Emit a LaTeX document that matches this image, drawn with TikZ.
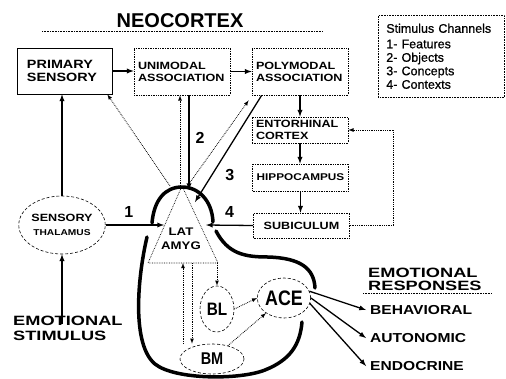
\documentclass[tikz,border=0pt]{standalone}
\usepackage{fontspec}
\setmainfont{Liberation Sans}
\newfontfamily\widefont[FakeStretch=1.2]{Liberation Sans}
\newfontfamily\extfont[FakeStretch=1.35]{Liberation Sans}
\newfontfamily\narrowfont[FakeStretch=0.85]{Liberation Sans}
\newfontfamily\legendfont[FakeBold=0.8]{Liberation Sans}
\usetikzlibrary{shapes.geometric}

\begin{document}
\begin{tikzpicture}[x=1pt, y=-1pt,
    area/.style={draw, densely dotted, line width=0.7pt, text width=88pt, inner xsep=4pt, inner ysep=1pt, align=left, font=\widefont\bfseries\fontsize{10.5}{12}\selectfont},
    nucleus/.style={draw, ellipse, densely dashed, line width=0.6pt, inner sep=0pt, font=\narrowfont\bfseries\fontsize{18}{18}\selectfont},
    bigtext/.style={anchor=west, inner sep=0pt, align=left, font=\extfont\bfseries\fontsize{13.5}{13}\selectfont},
    resp/.style={anchor=west, inner sep=0pt, font=\widefont\bfseries\fontsize{13}{13}\selectfont},
    numlabel/.style={inner sep=0pt, font=\bfseries\fontsize{16}{16}\selectfont},
    fiber/.style={-latex, line width=1.3pt},
    dotfiber/.style={-latex, densely dotted, line width=0.8pt},
    outline/.style={line width=3.5pt, line cap=round}]
    \useasboundingbox (0,0) rectangle (506,378);

    % neocortex
    \node[inner sep=0pt, font=\bfseries\fontsize{20}{20}\selectfont] (neocortex) at (180,21) {NEOCORTEX};
    \draw[densely dotted, line width=0.6pt] ([xshift=-138pt,yshift=-3pt]neocortex.south) -- ([xshift=143pt,yshift=-3pt]neocortex.south);
    \node[draw, line width=0.7pt, text width=75pt, inner xsep=10pt, minimum height=46pt, align=left, font=\widefont\bfseries\fontsize{12}{13.5}\selectfont] (primary) at (64.5,71) {PRIMARY\\SENSORY};
    \node[area, minimum height=47pt] (unimodal) at (182,71.5) {UNIMODAL\\ASSOCIATION};
    \node[area, minimum height=47pt] (polymodal) at (300,71.5) {POLYMODAL\\ASSOCIATION};

    % hippocampal loop
    \node[area, minimum height=26pt] (entorhinal) at (300,130) {ENTORHINAL\\CORTEX};
    \node[area, minimum height=27pt, align=center, font=\widefont\bfseries\fontsize{9.8}{12}\selectfont] (hippocampus) at (300.5,177.5) {HIPPOCAMPUS};
    \node[area, minimum height=25pt, align=center] (subiculum) at (301.5,225.5) {SUBICULUM};

    % legend
    \node[draw, densely dotted, line width=0.6pt, anchor=north west, text width=110pt, minimum height=82pt, inner xsep=8pt, align=left, font=\legendfont\fontsize{12.5}{13.5}\selectfont] (legend) at (378,15) {Stimulus Channels\\[2pt]1- Features\\2- Objects\\3- Concepts\\4- Contexts};

    % thalamus and amygdala
    \node[nucleus, minimum width=76pt, minimum height=58pt, align=center, font=\widefont\bfseries\fontsize{10.5}{14}\selectfont] (thalamus) at (62,225) {SENSORY\\{\fontsize{8.5}{14}\selectfont THALAMUS}};
    \coordinate (apex) at (182,186);
    \coordinate (baseL) at (148,263);
    \coordinate (baseR) at (218,263);
    \coordinate (inL) at (164,225);
    \coordinate (inR) at (206,225);
    \draw[densely dotted, line width=0.7pt] (apex) -- (baseL) -- (baseR) -- cycle;
    \node[inner sep=1pt, align=center, font=\widefont\bfseries\fontsize{11}{14}\selectfont] (lat) at (181,239) {LAT\\AMYG};
    \node[nucleus, minimum width=34pt, minimum height=46pt] (bl) at (217,309) {BL};
    \node[nucleus, minimum width=64pt, minimum height=30pt, font=\narrowfont\bfseries\fontsize{17}{17}\selectfont] (bm) at (212,359) {BM};
    \node[nucleus, minimum width=46pt, minimum height=40pt, font=\narrowfont\bfseries\fontsize{21}{21}\selectfont] (ace) at (284,298) {ACE};

    % text
    \node[bigtext, font=\extfont\bfseries\fontsize{13.5}{15}\selectfont] (stimulus) at (13,328) {EMOTIONAL\\STIMULUS};
    \node[bigtext] (responses) at (368,279) {EMOTIONAL\\RESPONSES};
    \draw[densely dotted, line width=0.6pt] ([xshift=-5pt,yshift=-3pt]responses.south west) -- ([xshift=10pt,yshift=-3pt]responses.south east);
    \node[resp] (behav) at (370,310) {BEHAVIORAL};
    \node[resp] (auton) at (370,338) {AUTONOMIC};
    \node[resp] (endoc) at (370,366) {ENDOCRINE};

    % outline of the amygdala
    \draw[outline] (152,223) .. controls (154,200) and (165,187) .. (182,187) .. controls (198,187) and (212,200) .. (213,222);
    \draw[outline] (216,231) .. controls (228,254) and (245,257) .. (268,257) .. controls (300,258) and (314,268) .. (315,288);
    \draw[outline] (147,237) .. controls (137,280) and (132,345) .. (155,364) .. controls (175,380) and (240,380) .. (265,370) .. controls (290,360) and (300,345) .. (302,322);

    % cortical connections
    \draw[fiber] (primary.east) -- (primary.east -| unimodal.west);
    \draw[fiber] (unimodal.east) -- (polymodal.west);
    \draw[fiber] (polymodal.south) -- (entorhinal.north);
    \draw[fiber] (entorhinal.south) -- (entorhinal.south |- hippocampus.north);
    \draw[fiber] (hippocampus.south) -- (hippocampus.south |- subiculum.north);
    \draw[dotfiber] (subiculum.east) -- ++(44,0) |- (entorhinal.east);

    % inputs to the amygdala
    \draw[fiber, shorten <=-8pt] (stimulus.north -| thalamus.south) -- (thalamus.south);
    \draw[fiber] (thalamus.north) -- (thalamus.north |- primary.south);
    \draw[fiber] (thalamus.east) -- (inL) node[numlabel, pos=0.4, above=7pt] {1};
    \draw[dotfiber] ([xshift=-12pt]apex) -- ([xshift=-5pt]primary.south east);
    \draw[dotfiber] ([xshift=-2pt]apex) -- ([xshift=-2pt]unimodal.south);
    \draw[fiber] ([xshift=7pt]unimodal.south) -- ([xshift=7pt,yshift=-4pt]apex) node[numlabel, pos=0.45, right=6pt] {2};
    \draw[dotfiber] ([xshift=4pt,yshift=-2pt]apex) -- ([xshift=-3pt,yshift=-5pt]polymodal.south west);
    \draw[fiber] ([xshift=10pt]polymodal.south west) -- ([xshift=13pt,yshift=-16pt]apex) node[numlabel, pos=0.75, right=13pt] {3};
    \draw[fiber] (subiculum.west) -- (inR) node[numlabel, midway, above=7pt] {4};

    % inside the amygdala
    \draw[dotfiber] (bl.north |- baseR) -- (bl.north);
    \draw[dotfiber] ([xshift=-29pt]bm.north) -- ([xshift=-29pt]bm.north |- baseL);
    \draw[dotfiber] ([xshift=-20pt]bm.north |- baseL) -- ([xshift=-20pt]bm.north);
    \draw[dotfiber] (bl.east) -- (ace.west);
    \draw[dotfiber] (bm.40) -- (ace.220);

    % outputs
    \draw[fiber] (ace.15) -- ([xshift=-4pt]behav.west);
    \draw[fiber] (ace.0) -- ([xshift=-4pt]auton.west);
    \draw[fiber] (ace.-12) -- ([xshift=-4pt]endoc.west);
\end{tikzpicture}
\end{document}
